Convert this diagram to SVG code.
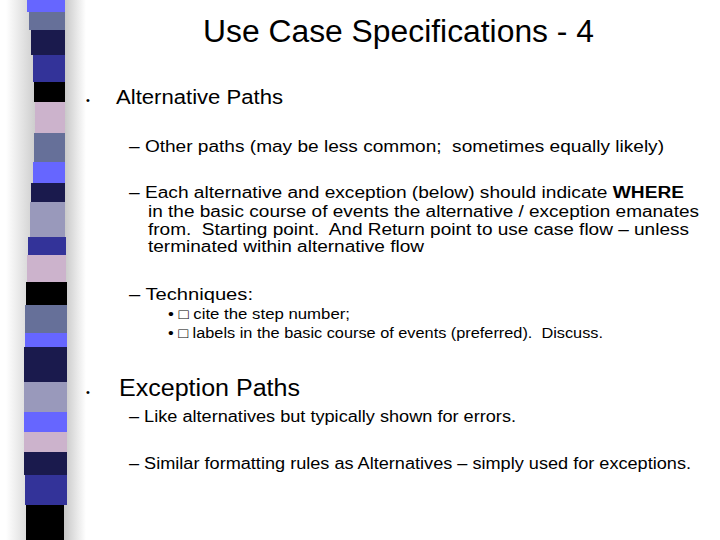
<svg xmlns="http://www.w3.org/2000/svg" width="720" height="540" viewBox="0 0 720 540">
<defs>
<linearGradient id="sh" x1="0" x2="1" y1="0" y2="0">
<stop offset="0" stop-color="#fff"/><stop offset="0.6" stop-color="#8a8a8a"/><stop offset="1" stop-color="#fff"/>
</linearGradient>
</defs>
<style>
text{font-family:"Liberation Sans",Arial,sans-serif;fill:#000;white-space:pre}
.l1{font-size:20px}.l2{font-size:16px}.l3{font-size:14px}
</style>
<rect width="720" height="540" fill="#fff"/>
<g id="strip">
<rect x="6" y="0" width="80" height="540" fill="url(#sh)" opacity="0.7"/>
<rect x="27" y="0" width="38" height="12" fill="#6666ff"/>
<rect x="29" y="12" width="36" height="18" fill="#667099"/>
<rect x="31" y="30" width="34" height="25" fill="#1a1a4d"/>
<rect x="33" y="55" width="32" height="27" fill="#333399"/>
<rect x="34" y="82" width="31" height="20" fill="#000"/>
<rect x="35" y="102" width="30" height="31" fill="#ccb3cc"/>
<rect x="34" y="133" width="31" height="29" fill="#667099"/>
<rect x="33" y="162" width="32" height="21" fill="#6666ff"/>
<rect x="31" y="183" width="34" height="19" fill="#1a1a4d"/>
<rect x="30" y="202" width="35" height="35" fill="#9999bb"/>
<rect x="28" y="237" width="38" height="18" fill="#333399"/>
<rect x="27" y="255" width="39" height="27" fill="#ccb3cc"/>
<rect x="26" y="282" width="41" height="23" fill="#000"/>
<rect x="25" y="305" width="42" height="28" fill="#667099"/>
<rect x="25" y="333" width="42" height="14" fill="#6666ff"/>
<rect x="24" y="347" width="43" height="35" fill="#1a1a4d"/>
<rect x="24" y="382" width="43" height="30" fill="#9999bb"/>
<rect x="24" y="412" width="43" height="20" fill="#6666ff"/>
<rect x="24" y="432" width="43" height="20" fill="#ccb3cc"/>
<rect x="24" y="452" width="43" height="23" fill="#1a1a4d"/>
<rect x="25" y="475" width="42" height="30" fill="#333399"/>
<rect x="26" y="505" width="38" height="35" fill="#000"/>
</g>
<g id="content">
<text x="203" y="42" font-size="31" textLength="391" lengthAdjust="spacingAndGlyphs">Use Case Specifications - 4</text>
<text x="86" y="104" font-size="11">•</text>
<text x="116" y="104" class="l1" textLength="167" lengthAdjust="spacingAndGlyphs">Alternative Paths</text>
<text x="129" y="152" class="l2" textLength="535" lengthAdjust="spacingAndGlyphs">– Other paths (may be less common;  sometimes equally likely)</text>
<text x="129" y="198" class="l2" textLength="555" lengthAdjust="spacingAndGlyphs">– Each alternative and exception (below) should indicate <tspan font-weight="bold">WHERE</tspan></text>
<text x="148" y="217" class="l2" textLength="551" lengthAdjust="spacingAndGlyphs">in the basic course of events the alternative / exception emanates</text>
<text x="148" y="235" class="l2" textLength="541" lengthAdjust="spacingAndGlyphs">from.  Starting point.  And Return point to use case flow – unless</text>
<text x="148" y="252" class="l2" textLength="276" lengthAdjust="spacingAndGlyphs">terminated within alternative flow</text>
<text x="129" y="300" class="l2" textLength="124" lengthAdjust="spacingAndGlyphs">– Techniques:</text>
<text x="168" y="319" class="l3" textLength="182" lengthAdjust="spacingAndGlyphs">• □ cite the step number;</text>
<text x="168" y="338" class="l3" textLength="435" lengthAdjust="spacingAndGlyphs">• □ labels in the basic course of events (preferred).  Discuss.</text>
<text x="86" y="396" font-size="11">•</text>
<text x="119" y="396" font-size="23" textLength="181" lengthAdjust="spacingAndGlyphs">Exception Paths</text>
<text x="129" y="422" class="l2" textLength="387" lengthAdjust="spacingAndGlyphs">– Like alternatives but typically shown for errors.</text>
<text x="129" y="469" class="l2" textLength="562" lengthAdjust="spacingAndGlyphs">– Similar formatting rules as Alternatives – simply used for exceptions.</text>
</g>
</svg>
